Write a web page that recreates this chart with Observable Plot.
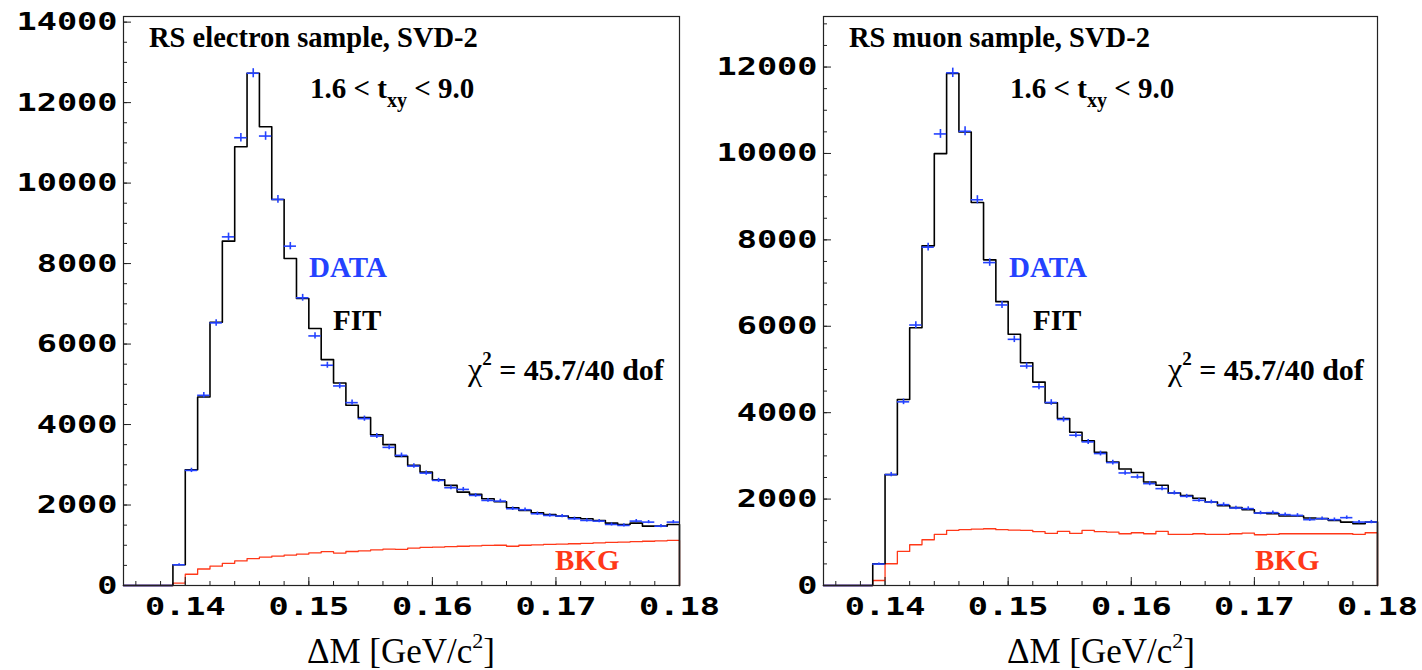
<!DOCTYPE html>
<html><head><meta charset="utf-8">
<script src="https://cdn.jsdelivr.net/npm/d3@7"></script>
<script src="https://cdn.jsdelivr.net/npm/@observablehq/plot@0.6"></script>
<style>
body{margin:0;background:#fff;}
#wrap{display:flex;width:1422px;height:670px;overflow:hidden;}
#wrap svg{flex:none;}
</style></head><body><div id="wrap"></div>
<script>
// ---- categories: lower edges of the 1 MeV bins ----
const binLow = [0.135,0.136,0.137,0.138,0.139,0.140,0.141,0.142,0.143,0.144,0.145,0.146,0.147,0.148,0.149,
  0.150,0.151,0.152,0.153,0.154,0.155,0.156,0.157,0.158,0.159,0.160,0.161,0.162,0.163,0.164,
  0.165,0.166,0.167,0.168,0.169,0.170,0.171,0.172,0.173,0.174,0.175,0.176,0.177,0.178,0.179];
const binWidth = 0.001;

// ---- electron sample ----
const elecData = [0,0,0,0,515,2860,4726,6526,8664,11127,12730,11169,9594,8433,7150,6202,5473,4959,4544,4146,
  3714,3433,3234,2968,2793,2612,2430,2388,2239,2114,2098,1908,1883,1783,1741,1725,1659,1617,1600,1517,1493,1600,1575,1475,1575];
const elecFit = [0,0,0,0,515,2878,4684,6542,8557,10903,12729,11400,9594,8127,7132,6385,5614,5033,4478,4171,
  3748,3500,3209,2985,2818,2628,2488,2321,2264,2156,2081,1932,1866,1808,1766,1725,1684,1659,1617,1550,1517,1550,1475,1475,1517];
const elecBkg = [0,0,0,0,58,280,410,480,550,610,670,704,729,754,780,813,842,805,845,862,
  887,903,900,930,945,955,965,975,985,995,1000,975,1000,1010,1020,1030,1037,1045,1060,1070,1078,1090,1100,1110,1120];

// ---- muon sample ----
const muonData = [0,0,0,0,497,2567,4251,6029,7831,10452,11866,10513,8928,7474,6493,5698,5079,4599,4236,3842,
  3478,3324,3054,2845,2605,2512,2358,2242,2141,2064,1971,1932,1871,1794,1779,1677,1686,1640,1623,1524,1547,1524,1570,1468,1468];
const muonFit = [0,0,0,0,503,2567,4306,5967,7861,9995,11850,10498,8866,7537,6570,5814,5155,4708,4228,3866,
  3548,3347,3084,2860,2698,2614,2396,2319,2141,2080,2018,1932,1848,1802,1755,1677,1663,1607,1607,1561,1547,1507,1468,1431,1468];
const muonBkg = [0,0,0,0,116,503,788,943,1059,1183,1276,1291,1307,1314,1291,1283,1276,1245,1206,1252,
  1206,1276,1245,1237,1198,1221,1198,1252,1183,1183,1198,1183,1183,1198,1213,1175,1183,1198,1198,1198,1198,1198,1198,1183,1221];

// ---- ticks ----
const xTickLabels = [0.14, 0.15, 0.16, 0.17, 0.18];
const xMinorTicks = [0.136,0.138,0.140,0.142,0.144,0.146,0.148,0.150,0.152,0.154,0.156,0.158,0.160,0.162,0.164,0.166,0.168,0.170,0.172,0.174,0.176,0.178,0.180];
const elecYTicks = [0,2000,4000,6000,8000,10000,12000,14000];
const muonYTicks = [0,2000,4000,6000,8000,10000,12000];
const elecYMinor = d3.range(0, 14001, 500);
const muonYMinor = d3.range(0, 13001, 500);

const BLUE = "#2442ff", RED = "#ff3818";
const SERIF = "'Liberation Serif','Times New Roman',serif";
const MONO = "'DejaVu Sans Mono',monospace";

function stepPoints(vals) {
  const pts = binLow.map((x, i) => ({x, y: vals[i]}));
  pts.push({x: binLow[binLow.length - 1] + binWidth, y: vals[vals.length - 1]});
  pts.push({x: binLow[binLow.length - 1] + binWidth, y: 0});
  return pts;
}

function panel(cfg) {
  const rows = binLow.map((x, i) => ({x1: x, x2: x + binWidth, xc: x + binWidth / 2, d: cfg.data[i]}));
  const plot = Plot.plot({
    width: cfg.width, height: 670,
    marginTop: 16, marginBottom: 85, marginLeft: cfg.marginLeft, marginRight: cfg.marginRight,
    x: {domain: [0.135, 0.18], label: null},
    y: {domain: [0, cfg.yMax], label: null},
    style: {background: "transparent", overflow: "visible"},
    marks: [
      Plot.line(stepPoints(cfg.bkg), {x: "x", y: "y", curve: "step-after", stroke: RED, strokeWidth: 1.3}),
      Plot.line(stepPoints(cfg.fit), {x: "x", y: "y", curve: "step-after", stroke: "#000", strokeWidth: 1.6}),
      Plot.ruleY(rows, {x1: "x1", x2: "x2", y: "d", stroke: BLUE, strokeWidth: 1.6}),
      Plot.ruleX(rows.filter(r => r.d > 0), {x: "xc", y1: r => r.d - Math.sqrt(r.d), y2: r => r.d + Math.sqrt(r.d), stroke: BLUE, strokeWidth: 1.6}),
      Plot.frame({stroke: "#222", strokeWidth: 1.2}),
      Plot.axisY(cfg.yMinor, {tickSize: -4, text: null, label: null, stroke: "#222"}),
      Plot.axisY(cfg.yTicks, {tickSize: -8, text: null, label: null, stroke: "#222"}),
      Plot.axisY(cfg.yTicks, {tickSize: 0, tickPadding: 6, label: null, tickFormat: d => String(d),
        fontFamily: MONO, fontSize: 25, fontWeight: "bold", fill: "#000"}),
      Plot.axisX(xMinorTicks, {tickSize: -4, text: null, label: null, stroke: "#222"}),
      Plot.axisX(xTickLabels, {tickSize: -8, text: null, label: null, stroke: "#222"}),
      Plot.axisX(xTickLabels, {tickSize: 0, tickPadding: 12, label: null, tickFormat: d => d.toFixed(2),
        fontFamily: MONO, fontSize: 25, fontWeight: "bold", fill: "#000"})
    ]
  });
  const svg = d3.select(plot);
  // stretch the monospace tick labels to the wide lettering of the original
  svg.selectAll('g[aria-label="y-axis tick label"] text, g[aria-label="x-axis tick label"] text').each(function() {
    const t = this.textContent;
    this.setAttribute("textLength", t.length * 20.2);
    this.setAttribute("lengthAdjust", "spacingAndGlyphs");
  });
  const g = svg.append("g").attr("font-family", SERIF).attr("text-anchor", "start");
  const bold = (x, y, txt, fill, size) => g.append("text").attr("x", x).attr("y", y)
      .attr("font-size", size || 29).attr("font-weight", "bold").attr("fill", fill || "#000").text(txt);
  bold(cfg.ox + 26, 47, cfg.title, "#000", 28.5);
  const t = g.append("text").attr("x", cfg.ox + 187).attr("y", 98).attr("font-size", 29).attr("font-weight", "bold");
  t.append("tspan").text("1.6 < t");
  t.append("tspan").attr("dy", 9).attr("font-size", 20).text("xy");
  t.append("tspan").attr("dy", -9).text(" < 9.0");
  bold(cfg.ox + 186, 277, "DATA", BLUE);
  bold(cfg.ox + 210, 330, "FIT");
  const c = g.append("text").attr("x", cfg.ox + 345).attr("y", 380).attr("font-size", 30).attr("font-weight", "bold");
  c.append("tspan").attr("font-weight", "normal").attr("font-size", 32).text("χ");
  c.append("tspan").attr("dy", -15).attr("font-size", 19).text("2");
  c.append("tspan").attr("dy", 15).text(" = 45.7/40 dof");
  bold(cfg.ox + 432, 570, "BKG", RED);
  const xl = g.append("text").attr("x", cfg.ox + 278).attr("y", 663).attr("font-size", 35).attr("text-anchor", "middle");
  xl.append("tspan").text("ΔM [GeV/c");
  xl.append("tspan").attr("dy", -15).attr("font-size", 22).text("2");
  xl.append("tspan").attr("dy", 15).text("]");
  return plot;
}

const wrap = document.getElementById("wrap");
wrap.appendChild(panel({width: 711, marginLeft: 123, marginRight: 32, ox: 123,
  yMax: 14140, yTicks: elecYTicks, yMinor: elecYMinor,
  data: elecData, fit: elecFit, bkg: elecBkg, title: "RS electron sample, SVD-2"}));
wrap.appendChild(panel({width: 711, marginLeft: 112, marginRight: 45, ox: 112,
  yMax: 13170, yTicks: muonYTicks, yMinor: muonYMinor,
  data: muonData, fit: muonFit, bkg: muonBkg, title: "RS muon sample, SVD-2"}));
</script></body></html>
